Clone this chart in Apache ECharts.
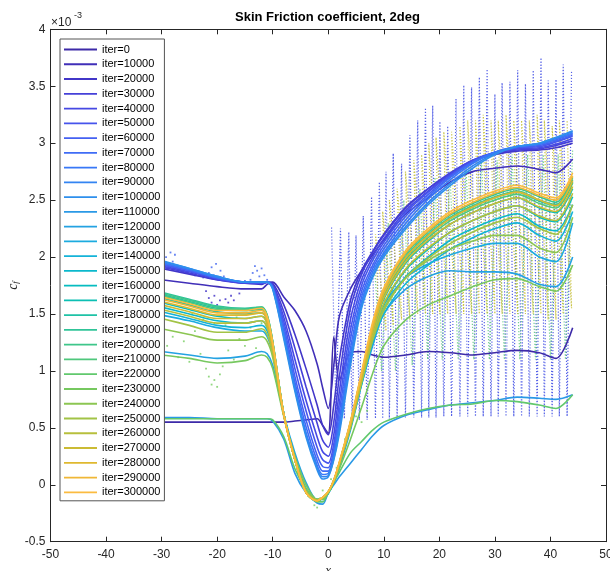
<!DOCTYPE html>
<html><head><meta charset="utf-8">
<script src="https://cdn.jsdelivr.net/npm/echarts@6/dist/echarts.min.js"></script>
<style>html,body{margin:0;padding:0;background:#fff}#c{width:610px;height:571px}</style>
</head><body><div id="c"></div>
<script>
// x stations (shared by all solid curves)
const X = [-30,-25,-20,-15,-12,-11,-10,-8,-6,-4,-2,-1,0,1,2,4,6,8,10,14,18,22,26,30,34,38,41,44];

const iters = [0,10000,20000,30000,40000,50000,60000,70000,80000,90000,100000,110000,120000,130000,140000,150000,160000,170000,180000,190000,200000,210000,220000,230000,240000,250000,260000,270000,280000,290000,300000];

const S0  = [0.55,0.55,0.55,0.55,0.55,0.55,0.55,0.55,0.56,0.57,0.58,0.52,0.45,1.30,0.92,1.16,1.17,1.14,1.12,1.14,1.17,1.16,1.14,1.16,1.18,1.16,1.11,1.38];
const S1  = [1.80,1.77,1.74,1.72,1.72,1.76,1.78,1.65,1.53,1.35,1.06,0.85,0.67,1.05,1.48,1.72,1.88,2.02,2.15,2.38,2.52,2.66,2.75,2.78,2.80,2.77,2.74,2.86];
const S2  = [1.90,1.85,1.80,1.77,1.76,1.78,1.77,1.58,1.32,1.02,0.70,0.52,0.44,0.70,1.10,1.62,1.88,2.05,2.20,2.44,2.60,2.73,2.84,2.90,2.93,2.94,2.96,3.00];
const S3  = [1.91,1.86,1.80,1.77,1.77,1.78,1.76,1.52,1.20,0.86,0.54,0.39,0.33,0.55,0.95,1.55,1.85,2.04,2.19,2.43,2.60,2.74,2.85,2.91,2.94,2.95,2.98,3.02];
const S4  = [1.92,1.87,1.81,1.77,1.77,1.78,1.75,1.47,1.10,0.74,0.42,0.29,0.25,0.44,0.82,1.45,1.80,2.00,2.16,2.41,2.58,2.73,2.85,2.92,2.95,2.96,2.99,3.04];
const S5  = [1.93,1.88,1.81,1.78,1.77,1.78,1.74,1.43,1.02,0.65,0.33,0.22,0.19,0.36,0.72,1.36,1.75,1.97,2.13,2.39,2.57,2.72,2.84,2.92,2.96,2.97,3.01,3.06];
const S6  = [1.94,1.88,1.82,1.78,1.78,1.78,1.74,1.39,0.95,0.57,0.26,0.16,0.15,0.31,0.64,1.28,1.70,1.93,2.10,2.36,2.55,2.71,2.84,2.92,2.96,2.98,3.02,3.07];
const S7  = [1.95,1.89,1.82,1.78,1.78,1.78,1.73,1.35,0.90,0.51,0.21,0.12,0.12,0.27,0.57,1.20,1.65,1.90,2.07,2.33,2.53,2.70,2.83,2.92,2.97,2.99,3.03,3.08];
const S8  = [1.95,1.89,1.82,1.78,1.78,1.78,1.73,1.32,0.86,0.46,0.17,0.09,0.10,0.25,0.52,1.14,1.61,1.87,2.04,2.30,2.51,2.68,2.82,2.92,2.97,2.99,3.04,3.09];
const S9  = [1.96,1.90,1.83,1.78,1.78,1.78,1.72,1.30,0.84,0.44,0.15,0.07,0.08,0.23,0.48,1.09,1.58,1.84,2.02,2.27,2.48,2.65,2.80,2.91,2.97,3.00,3.05,3.10];
const S10 = [1.97,1.90,1.83,1.78,1.78,1.78,1.72,1.28,0.82,0.42,0.13,0.05,0.07,0.22,0.45,1.05,1.55,1.82,2.00,2.25,2.46,2.63,2.78,2.90,2.97,3.00,3.05,3.11];
const S11 = [0.59,0.59,0.58,0.58,0.58,0.58,0.56,0.40,0.10,-0.07,-0.16,-0.17,-0.07,0.00,0.07,0.19,0.31,0.43,0.52,0.61,0.66,0.70,0.72,0.74,0.77,0.76,0.75,0.79];
const S12 = [1.17,1.14,1.11,1.13,1.17,1.15,1.05,0.62,0.28,0.02,-0.13,-0.13,-0.08,0.02,0.15,0.48,0.88,1.22,1.50,1.72,1.83,1.88,1.87,1.87,1.85,1.76,1.74,2.00];
const S13 = [1.49,1.44,1.38,1.35,1.35,1.30,1.15,0.62,0.24,-0.03,-0.13,-0.12,-0.07,0.04,0.18,0.52,0.95,1.32,1.58,1.82,1.94,2.02,2.08,2.12,2.12,2.00,1.96,2.30];
const S14 = [1.52,1.46,1.40,1.38,1.40,1.35,1.17,0.62,0.23,-0.05,-0.13,-0.12,-0.07,0.03,0.18,0.50,0.88,1.24,1.50,1.77,1.93,2.07,2.17,2.25,2.30,2.19,2.14,2.40];
const S15 = [1.56,1.50,1.44,1.42,1.44,1.38,1.19,0.62,0.23,-0.06,-0.13,-0.12,-0.07,0.03,0.18,0.51,0.89,1.27,1.54,1.83,2.00,2.15,2.25,2.33,2.38,2.27,2.23,2.46];
const S16 = [1.60,1.54,1.48,1.46,1.48,1.42,1.21,0.62,0.22,-0.07,-0.14,-0.12,-0.07,0.03,0.18,0.52,0.91,1.30,1.58,1.89,2.07,2.22,2.32,2.40,2.45,2.35,2.31,2.53];
const S17 = [1.64,1.58,1.52,1.50,1.51,1.45,1.23,0.62,0.22,-0.07,-0.14,-0.12,-0.07,0.03,0.18,0.53,0.93,1.34,1.63,1.95,2.14,2.29,2.39,2.47,2.52,2.43,2.39,2.60];
const S18 = [1.67,1.61,1.55,1.53,1.54,1.47,1.25,0.62,0.22,-0.07,-0.14,-0.12,-0.07,0.03,0.19,0.54,0.96,1.38,1.68,2.00,2.19,2.34,2.44,2.52,2.57,2.49,2.45,2.66];
const S19 = [1.69,1.63,1.57,1.55,1.56,1.49,1.26,0.62,0.22,-0.07,-0.14,-0.12,-0.07,0.03,0.19,0.55,0.97,1.40,1.70,2.03,2.22,2.37,2.47,2.55,2.60,2.53,2.48,2.70];
const S20 = [1.68,1.62,1.56,1.54,1.56,1.49,1.26,0.62,0.22,-0.07,-0.14,-0.12,-0.07,0.03,0.19,0.55,0.97,1.39,1.69,2.01,2.20,2.35,2.45,2.53,2.58,2.50,2.46,2.68];
const S21 = [1.66,1.60,1.54,1.53,1.55,1.48,1.25,0.62,0.22,-0.07,-0.14,-0.12,-0.07,0.03,0.19,0.54,0.95,1.37,1.66,1.98,2.17,2.32,2.42,2.50,2.55,2.47,2.43,2.65];
const S22 = [0.58,0.58,0.58,0.58,0.58,0.58,0.57,0.42,0.14,-0.04,-0.15,-0.15,-0.06,0.02,0.11,0.28,0.38,0.48,0.55,0.62,0.67,0.70,0.71,0.74,0.73,0.70,0.67,0.79];
const S23 = [1.14,1.11,1.07,1.09,1.14,1.12,1.02,0.60,0.25,0.00,-0.13,-0.13,-0.07,0.03,0.14,0.40,0.68,0.98,1.22,1.45,1.58,1.66,1.74,1.80,1.81,1.74,1.70,1.93];
const S24 = [1.37,1.32,1.27,1.27,1.30,1.26,1.12,0.61,0.23,-0.04,-0.13,-0.12,-0.07,0.04,0.18,0.50,0.90,1.28,1.55,1.82,1.97,2.07,2.14,2.19,2.19,2.08,2.04,2.35];
const S25 = [1.46,1.40,1.34,1.34,1.37,1.32,1.15,0.61,0.23,-0.06,-0.13,-0.11,-0.06,0.04,0.18,0.51,0.90,1.27,1.53,1.82,1.99,2.12,2.22,2.30,2.35,2.25,2.20,2.46];
const S26 = [1.54,1.48,1.42,1.42,1.44,1.38,1.19,0.61,0.22,-0.07,-0.14,-0.11,-0.06,0.04,0.19,0.52,0.92,1.31,1.59,1.90,2.08,2.22,2.32,2.40,2.45,2.36,2.32,2.56];
const S27 = [1.58,1.52,1.46,1.46,1.48,1.41,1.21,0.61,0.22,-0.07,-0.14,-0.11,-0.06,0.04,0.19,0.53,0.94,1.35,1.64,1.96,2.15,2.29,2.39,2.47,2.52,2.44,2.40,2.62];
const S28 = [1.61,1.55,1.49,1.49,1.51,1.44,1.23,0.61,0.22,-0.07,-0.14,-0.11,-0.06,0.04,0.19,0.54,0.96,1.38,1.68,2.00,2.19,2.34,2.44,2.52,2.57,2.50,2.45,2.67];
const S29 = [1.63,1.57,1.51,1.51,1.53,1.46,1.24,0.62,0.22,-0.07,-0.14,-0.11,-0.06,0.04,0.20,0.55,0.98,1.41,1.71,2.04,2.23,2.38,2.48,2.56,2.61,2.54,2.50,2.71];
const S30 = [1.65,1.59,1.53,1.53,1.55,1.48,1.25,0.62,0.22,-0.07,-0.14,-0.11,-0.06,0.04,0.20,0.56,0.99,1.43,1.73,2.06,2.25,2.40,2.50,2.58,2.63,2.56,2.52,2.74];

// dotted (instantaneous) traces on the suction side
const spikeX   = [0.6,2.2,3.7,5.0,6.3,7.8,9.2,10.4,11.7,13.2,14.7,16.1,17.5,18.8,20.1,21.5,23.0,24.4,25.8,27.2,28.6,30.0,31.3,32.7,34.1,35.5,36.9,38.3,39.6,41.0,42.3,43.8];
const spikeTop = [2.26,2.25,2.22,2.19,2.36,2.53,2.66,2.75,2.91,2.82,3.07,3.20,3.31,3.33,3.19,3.15,3.39,3.51,3.49,3.58,3.65,3.43,3.53,3.54,3.64,3.52,3.64,3.75,3.55,3.56,3.69,3.64];
const valleyX  = [1.4,2.9,4.3,5.6,7.0,8.5,9.8,11.0,12.4,13.9,15.4,16.8,18.1,19.4,20.8,22.2,23.7,25.1,26.5,27.9,29.3,30.6,32.0,33.4,34.8,36.2,37.6,38.9,40.3,41.6,43.0];
const valleyLow= [0.62,0.58,0.57,0.57,0.57,0.58,0.58,0.58,0.58,0.59,0.59,0.59,0.59,0.59,0.60,0.60,0.60,0.60,0.60,0.60,0.60,0.60,0.60,0.60,0.60,0.60,0.60,0.60,0.60,0.60,0.60];

const yelTopX = [8.5,9.8,11.0,12.4,13.9,15.4,16.8,18.1,19.4,20.8,22.2,23.7,25.1,26.5,27.9,29.3,30.6,32.0,33.4,34.8,36.2,37.6,38.9,40.3,41.6,43.0];
const yelTop  = [2.20,2.40,2.50,2.60,2.75,2.85,2.90,3.00,3.05,3.10,3.10,3.15,3.20,3.20,3.25,3.20,3.20,3.25,3.20,3.20,3.20,3.25,3.20,3.15,3.20,3.20];
const yelLowX = [9.2,10.4,11.7,13.2,14.7,16.1,17.5,18.8,20.1,21.5,23.0,24.4,25.8,27.2,28.6,30.0,31.3,32.7,34.1,35.5,36.9,38.3,39.6,41.0,42.3,43.8];
const yelLow  = [1.30,1.35,1.40,1.45,1.45,1.50,1.50,1.50,1.50,1.50,1.50,1.50,1.50,1.50,1.50,1.50,1.50,1.50,1.50,1.50,1.50,1.50,1.45,1.45,1.50,1.55];

const grnZigX = [8.2,9.6,10.8,12.1,13.6,15.1,16.5,17.9,19.2,20.5,21.9,23.4,24.8,26.2,27.6,29.0,30.4,31.7,33.1,34.5,35.9,37.3,38.7,40.0,41.4,42.7,44.0];
const grnZigY = [2.00,1.00,2.30,1.00,2.50,1.05,2.60,1.10,2.70,1.10,2.75,1.10,2.80,1.10,2.85,1.10,2.85,1.10,2.90,1.10,2.90,1.10,2.90,1.10,2.90,1.10,2.95];

// scattered samples on the left / near the minimum
const dotBlueX = [-30,-29.6,-29.2,-28.8,-28.4,-28,-27.6,-27.2,-26.5,-25.5,-24,-22.5,-21.5,-21,-20.6,-20.2,-19.8,-19.4,-18.8,-18,-16.5,-15,-14,-13.6,-13.2,-12.8,-12.4,-12,-11.5,-11];
const dotBlueY = [1.95,1.90,2.00,1.93,2.04,1.96,2.02,1.92,1.88,1.87,1.84,1.82,1.86,1.91,1.84,1.94,1.80,1.88,1.83,1.80,1.78,1.79,1.80,1.86,1.92,1.88,1.83,1.90,1.84,1.80];
const dotPurpX = [-22,-21.5,-21,-20.5,-20,-19.5,-19,-18.5,-18,-17.5,-17,-16];
const dotPurpY = [1.70,1.64,1.60,1.66,1.58,1.62,1.56,1.63,1.60,1.66,1.62,1.68];
const dotGrnX  = [-30,-29,-28,-27,-26,-25,-24,-23,-22,-21.5,-21,-20.5,-20,-19.5,-19,-18,-17,-16,-15,-14,-13,-12,-24.5,-22.5,-20.5,-18.5,-16.5,-5,-4,-3,-2.5,-2,-1.5,-1,0.5,1.5,2.5,3,4,5,6,7];
const dotGrnY  = [1.05,1.22,1.30,1.12,1.26,1.08,1.35,1.15,1.02,0.95,0.88,0.92,0.86,0.97,1.04,1.18,1.10,1.28,1.22,1.38,1.20,1.42,1.50,1.45,1.42,1.40,1.47,0.05,-0.05,-0.10,-0.18,-0.20,-0.12,-0.05,0.05,0.15,0.25,0.40,0.50,0.60,0.55,0.65];

const colors = ['#3d2aa8','#402fb8','#4236c8','#4540d8','#4649e3','#4654ec','#4460f2','#3f6cf6','#3878f7','#3384f2','#2e8fec','#2a99e6','#24a2e2','#1cabdf','#14b3d8','#0bb8cc','#06bcc0','#0cbfb3','#1ec2a6','#30c498','#3fc68a','#4fc77c','#61c86d','#76c85f','#8cc652','#a2c346','#b7bf3c','#cbbb34','#dfb82f','#f0b737','#fbbb40'];

const solid = [S0,S1,S2,S3,S4,S5,S6,S7,S8,S9,S10,S11,S12,S13,S14,S15,S16,S17,S18,S19,S20,S21,S22,S23,S24,S25,S26,S27,S28,S29,S30];

function pairs(xs, ys){ return xs.map((x,i)=>[x, ys[i]]); }
function zig(ax, ay, bx, by){ const d=[]; for(let i=0;i<ax.length;i++){ d.push([ax[i],ay[i]]); if(i<bx.length) d.push([bx[i],by[i]]);} return d; }

const FONT = 'Liberation Sans, Arial, sans-serif';
const AX = '#262626';

function dotted(data, color, op){
  return {type:'line', data:data, symbol:'none', silent:true, smooth:false,
    lineStyle:{color:color, width:1.2, type:[1.2,1.8], opacity:op}, z:1};
}
function dots(data, color){
  return {type:'scatter', data:data, symbol:'rect', symbolSize:1.8, silent:true,
    itemStyle:{color:color, opacity:0.85}, z:1};
}

const series = [
  dotted(zig(spikeX, spikeTop, valleyX, valleyLow), '#4d5ae6', 0.95),
  dotted(pairs(grnZigX, grnZigY), '#5cc87a', 0.85),
  dotted(zig(yelLowX, yelLow, yelTopX, yelTop), '#c6c03a', 0.95),
  dots(pairs(dotBlueX, dotBlueY), '#4a6cf0'),
  dots(pairs(dotPurpX, dotPurpY), '#4536c8'),
  dots(pairs(dotGrnX, dotGrnY), '#7fd06a')
];
solid.forEach((Y, k) => {
  series.push({
    name: 'iter=' + iters[k], type:'line', data: pairs(X, Y), symbol:'none', showSymbol:false,
    smooth:0.3, lineStyle:{color:colors[k], width:1.6}, itemStyle:{color:colors[k]}, z:2
  });
});

const chart = echarts.init(document.getElementById('c'), null, {renderer:'canvas'});
const xCommon = {type:'value', min:-50, max:50, interval:10, splitLine:{show:false},
  axisLine:{show:true, onZero:false, lineStyle:{color:AX, width:1}},
  axisTick:{show:true, inside:true, length:5, lineStyle:{color:AX}}};
const yCommon = {type:'value', min:-0.5, max:4, interval:0.5, splitLine:{show:false},
  axisLine:{show:true, onZero:false, lineStyle:{color:AX, width:1}},
  axisTick:{show:true, inside:true, length:5, lineStyle:{color:AX}}};

chart.setOption({
  animation:false,
  backgroundColor:'#fff',
  title:{text:'Skin Friction coefficient, 2deg', left:235, top:11, padding:0,
    textStyle:{fontFamily:FONT, fontSize:13, fontWeight:'bold', color:'#000'}},
  grid:{left:50.5, right:4, top:29.3, bottom:29.3, containLabel:false, outerBoundsMode:'none'},
  legend:{orient:'vertical', left:60, top:39, itemWidth:33, itemHeight:11, itemGap:3.76,
    icon:'path://M0,0M0,4.6L33,4.6L33,6.4L0,6.4ZM33,11',
    padding:[5,4,3,4], borderColor:'#555', borderWidth:1, backgroundColor:'#fff',
    textStyle:{fontFamily:FONT, fontSize:11, color:'#000', lineHeight:11},
    data: iters.map(v=>'iter='+v), z:10},
  xAxis:[
    Object.assign({}, xCommon, {position:'bottom', name:'x', nameLocation:'middle', nameGap:22, nameMoveOverlap:false,
      nameTextStyle:{fontFamily:'Liberation Serif, serif', fontStyle:'italic', fontSize:13, color:AX},
      axisLabel:{show:true, margin:7, fontFamily:FONT, fontSize:12, color:AX}}),
    Object.assign({}, xCommon, {position:'top', axisLabel:{show:false}})
  ],
  yAxis:[
    Object.assign({}, yCommon, {position:'left', name:'{c|c}{f|f}', nameLocation:'middle', nameGap:30, nameRotate:90, nameMoveOverlap:false,
      nameTextStyle:{rich:{c:{fontFamily:'Liberation Serif, serif', fontStyle:'italic', fontSize:14, color:AX},
        f:{fontFamily:'Liberation Serif, serif', fontStyle:'italic', fontSize:9, color:AX, padding:[6,0,0,0]}}},
      axisLabel:{show:true, margin:5, fontFamily:FONT, fontSize:12, color:AX}}),
    Object.assign({}, yCommon, {position:'right', axisLabel:{show:false}})
  ],
  graphic:[
    {type:'text', left:51, top:17, style:{text:'×10', font:'12px Liberation Sans', fill:AX}},
    {type:'text', left:74, top:11, style:{text:'-3', font:'9px Liberation Sans', fill:AX}}
  ],
  series: series
});
</script></body></html>
